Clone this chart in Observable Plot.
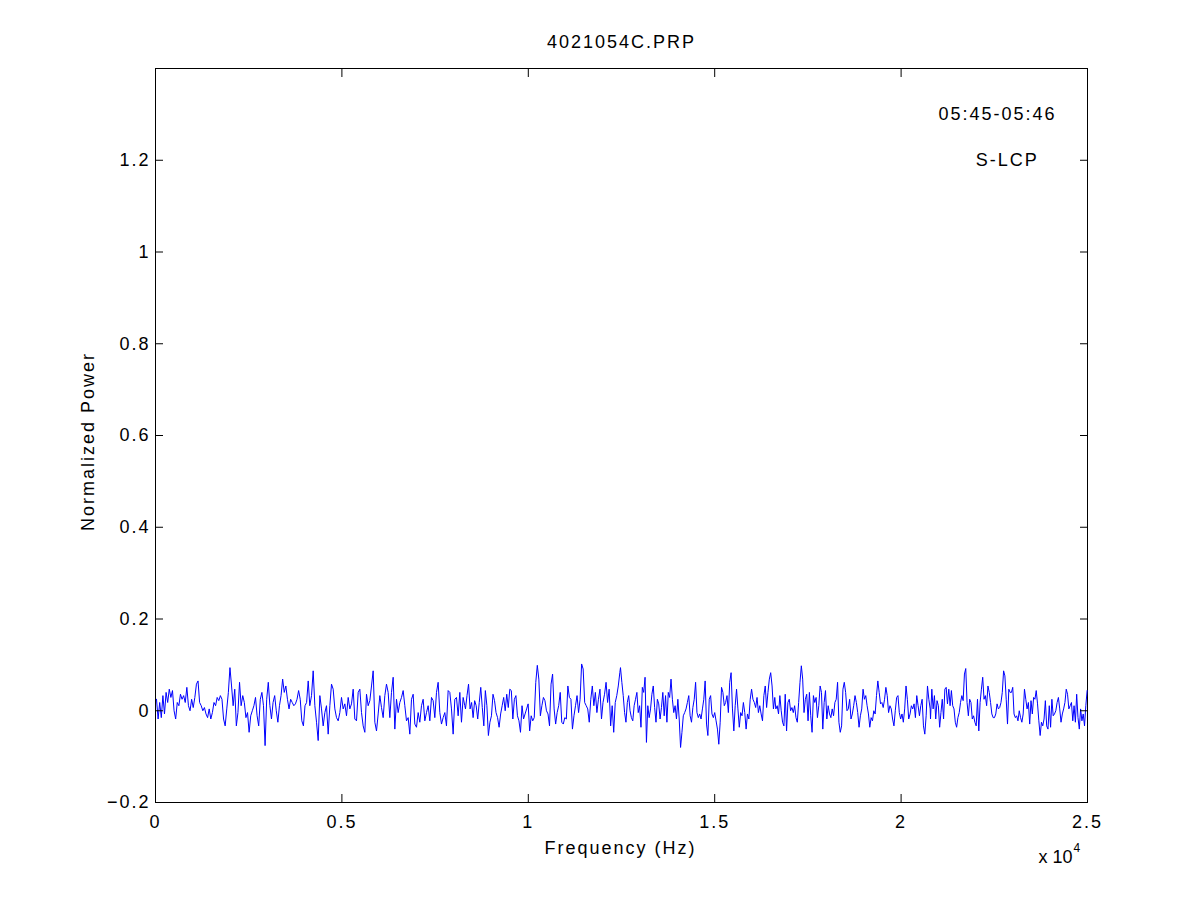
<!DOCTYPE html>
<html>
<head>
<meta charset="utf-8">
<script src="https://cdn.jsdelivr.net/npm/d3@7"></script>
<script src="https://cdn.jsdelivr.net/npm/@observablehq/plot@0.6"></script>
<style>
  html, body { margin: 0; padding: 0; background: #fff; }
  #chart { width: 1201px; height: 901px; }
</style>
</head>
<body>
<div id="chart"></div>
<script>
// ---- text ----
const title = "4021054C.PRP";
const xLabel = "Frequency (Hz)";
const yLabel = "Normalized Power";
const exponentBase = "x 10";
const exponentPower = "4";
const annotations = ["05:45-05:46", "S-LCP"];
const annotationHz = [21000, 22000];
const annotationPower = [1.3, 1.2];

// ---- ticks ----
const xTicks = [0, 5000, 10000, 15000, 20000, 25000];
const xTickLabels = ["0", "0.5", "1", "1.5", "2", "2.5"];
const yTicks = [-0.2, 0, 0.2, 0.4, 0.6, 0.8, 1, 1.2];
const yTickLabels = ["\u22120.2", "0", "0.2", "0.4", "0.6", "0.8", "1", "1.2"];
const xDomain = [0, 25000];
const yDomain = [-0.2, 1.4];

// ---- spectrum, read in six consecutive frequency segments ----
const segmentStartHz = [27, 4185, 8315, 12473, 16640, 20789];
const segmentEndHz   = [4139, 8297, 12455, 16612, 20780, 24990];

const powerSeg1 = [0.025,-0.018,0.018,-0.015,0.033,-0.007,0.04,0.018,0.047,0.029,
0.044,0,-0.018,0.018,0.011,0.036,0.025,0.033,0.018,0.051,
0.011,0,0.025,0.007,0.029,0.058,0.065,0.018,0.011,0,
0.007,-0.007,-0.015,0.004,-0.018,-0.004,0.018,0.011,0.029,0.022,
0.033,0.025,-0.018,-0.033,0.004,0.04,0.094,0.054,0.011,0.047,
-0.033,-0.004,0.062,0.011,0.033,0.018,-0.015,-0.004,-0.047,-0.011,
0,0.011,0.029,-0.011,-0.033,0.025,0.04,0.011,-0.076,0.025,
0.062,0.011,-0.018,0.018,0.033,0,-0.025,0.011,0.033,0.069,
0.04,0.054,0.025,0.004,0.025,0.018,0.011,0.015,0.025,0.044,
0.025,-0.022,-0.033,0.011,0.018,0.065,0.011];

const powerSeg2 = [0.033,0.087,0.011,-0.025,-0.065,0.033,0.004,-0.033,-0.004,0.011,
-0.051,0.011,0.058,0.047,0.004,-0.015,-0.022,-0.004,0.029,0.004,
0.015,-0.011,0.029,0.004,0.015,0.047,-0.018,-0.022,0.04,0.047,
-0.004,-0.033,-0.047,0.036,0.011,0.022,0.054,0.087,-0.025,-0.044,
-0.007,0.033,0.007,-0.015,0.033,0.058,0.04,-0.015,0.04,0.073,
-0.04,0.025,-0.004,0.018,0.029,0.044,0.011,-0.022,-0.015,-0.051,
0.025,0.036,-0.029,-0.036,-0.004,-0.025,0.011,0.025,-0.022,-0.004,
0.011,-0.022,0.029,0.022,-0.015,0.04,0.062,-0.004,-0.029,-0.015,
-0.004,-0.033,0.044,0.04,0.004,-0.051,0.025,0.029,-0.011,0.04,
-0.025,0.029,0.011];

const powerSeg3 = [0.004,0.033,0.058,0.004,0.018,-0.015,0.022,0.011,-0.018,0.018,
0.051,0.007,-0.033,0.044,0.011,-0.054,-0.025,-0.011,0.036,0.022,
-0.004,-0.015,-0.036,-0.007,0.011,0.029,0,0.036,0.007,0.047,
0.044,-0.018,0.025,0.033,-0.011,-0.022,-0.047,0.011,-0.018,-0.007,
0.004,0.015,-0.044,-0.011,-0.022,-0.015,0.062,0.099,0.069,-0.011,
0.011,0.029,0.022,0,-0.007,-0.033,0.058,0.08,0.004,-0.029,
-0.004,0.011,0.04,-0.025,-0.029,-0.015,-0.018,0.054,0.029,0.025,
-0.04,-0.011,0.011,0.033,-0.004,0.025,0.102,0.091,0.018,0.011,
0.004,-0.025,0.025,0.054,0.011,0.04,-0.004,0.025,0.047,-0.018,
0.018,0.036,0.062,0.018,0.047,-0.033,0.011,-0.047,0.018,0.033,
0.054,0.083];

const powerSeg4 = [0.094,0.062,0.033,-0.004,-0.025,0.018,0.033,0,-0.015,-0.022,
0.011,0.025,0.04,-0.004,0.011,-0.036,0.051,0.04,0.073,-0.069,
0.011,-0.015,0.004,0.036,0.054,0.007,-0.025,0.025,0.015,-0.018,
0.007,0.04,-0.011,0.033,-0.025,0.04,0.029,0.069,0.025,-0.004,
0.011,-0.018,0.025,-0.018,-0.08,-0.047,-0.011,-0.004,0.004,0.018,
0.033,-0.011,-0.025,0.007,0.025,0.062,-0.004,-0.015,-0.007,-0.018,
0.004,0.025,0.065,-0.029,-0.054,0.025,0.033,-0.007,-0.015,-0.004,
-0.022,-0.04,-0.073,-0.025,0.051,0.04,0.011,0.018,0.033,-0.004,
0.062,0.083,0.004,-0.044,0.011,0.047,0.004,-0.036,-0.004,-0.011,
0.018,-0.004,-0.04,-0.007,-0.018,0.025,0.047,0.025,0.018,0.007,
0.029,-0.004,0.011,-0.007,-0.022,0.033,0.054,0.007,0.04,0.069,
0.083,0.054,0.004,0.029];

const powerSeg5 = [0.004,0.011,-0.007,0.033,0,-0.025,-0.033,0.036,-0.044,0.018,
0.025,0,0.007,-0.004,0.011,-0.015,-0.025,0.018,0.062,0.098,
0.069,-0.004,0.025,0.036,-0.022,0.04,-0.011,-0.047,0.033,0.018,
0.029,-0.015,0.011,0.054,0.04,-0.04,0.018,0.044,-0.018,0.011,
-0.007,-0.015,0.004,-0.011,0.018,0.025,0.062,-0.025,-0.047,-0.033,
0.047,0.062,0.04,0,0.004,0.025,-0.018,-0.007,0.011,0.033,
0.018,-0.004,-0.036,-0.011,0.004,0.047,0.025,0.033,0.011,-0.007,
-0.036,-0.015,-0.022,0,-0.007,0.033,0.065,0.04,0.015,0.018,
0.007,0.025,0.051,0.033,-0.004,0.011,0.004,-0.018,-0.033,0,
0.029,0.033,-0.004,-0.018,-0.007,-0.025,0.004,0.054,0.025,-0.018,
-0.007,0.011,0.004,0.015,-0.015,0.033,0.011,-0.011,0.011,0.025,
-0.033,-0.051,-0.011,0.054,0.025,0.004];

const powerSeg6 = [-0.018,0.047,0.004,0.033,-0.018,0.022,0.011,-0.036,-0.004,0.025,
-0.018,0.047,0.051,0.015,0.047,0.011,0.044,0.011,0.004,-0.025,
-0.036,-0.015,-0.004,0.018,0.033,0.022,0.08,0.092,0.018,-0.011,
0.025,0.018,-0.018,-0.011,-0.025,-0.033,0.025,-0.044,0.018,0.047,
0.073,0.025,0.033,0.011,0.054,0.04,0.018,-0.007,-0.015,-0.015,
-0.007,0.015,0.004,0.007,0.018,0.04,0.087,0.076,0.025,-0.029,
0.047,0.04,0.04,0.051,-0.007,-0.015,-0.011,-0.022,0,-0.015,
-0.025,-0.007,0.047,0.025,0.004,0.018,-0.029,0.022,-0.007,0.029,
0.025,0.044,0.015,-0.022,-0.054,-0.025,-0.033,-0.018,0.022,-0.033,
-0.04,0.011,-0.036,0.025,-0.011,-0.007,0,0.018,0.029,0.004,
-0.025,-0.007,0.004,0.018,0.047,0.036,0.004,0.011,0.018,-0.022,
0.011,-0.025,0.036,-0.015,-0.04,0.004,-0.022,-0.007,-0.033,0.011,
0.044];

const powerSegments = [powerSeg1, powerSeg2, powerSeg3, powerSeg4, powerSeg5, powerSeg6];

// Build the table: samples are evenly spaced inside each segment
const spectrum = [];
powerSegments.forEach((seg, s) => {
  const n = seg.length;
  seg.forEach((p, j) => {
    spectrum.push({
      hz: segmentStartHz[s] + (segmentEndHz[s] - segmentStartHz[s]) * j / (n - 1),
      power: p
    });
  });
});

const fontFamily = "'Liberation Sans', Arial, Helvetica, sans-serif";
const black = "#000000";
const tickLen = 8;

const chart = Plot.plot({
  width: 1201,
  height: 901,
  marginLeft: 155,
  marginRight: 114,
  marginTop: 68,
  marginBottom: 99,
  style: {
    fontFamily,
    fontSize: "18px",
    letterSpacing: "2px",
    color: black,
    background: "#ffffff",
    overflow: "visible"
  },
  x: { domain: xDomain },
  y: { domain: yDomain },
  marks: [
    Plot.frame({ stroke: black, strokeWidth: 1 }),
    Plot.line(spectrum, { x: "hz", y: "power", stroke: "#0000ff", strokeWidth: 1 }),

    // inward tick marks on all four sides
    Plot.axisX({ anchor: "bottom", ticks: xTicks, tickSize: tickLen, dy: -tickLen, tickFormat: () => "", label: null, stroke: black }),
    Plot.axisX({ anchor: "top", ticks: xTicks, tickSize: tickLen, dy: tickLen, tickFormat: () => "", label: null, stroke: black }),
    Plot.axisY({ anchor: "left", ticks: yTicks, tickSize: tickLen, dx: tickLen, tickFormat: () => "", label: null, stroke: black }),
    Plot.axisY({ anchor: "right", ticks: yTicks, tickSize: tickLen, dx: -tickLen, tickFormat: () => "", label: null, stroke: black }),

    // tick labels
    Plot.axisX({ anchor: "bottom", ticks: xTicks, tickSize: 0, tickPadding: 13,
      tickFormat: d => xTickLabels[xTicks.indexOf(d)], label: null, fill: black }),
    Plot.axisY({ anchor: "left", ticks: yTicks, tickSize: 0, tickPadding: 5,
      tickFormat: d => yTickLabels[yTicks.indexOf(d)], label: null, fill: black }),

    // title and axis labels
    Plot.text([title], { text: d => d, frameAnchor: "top", textAnchor: "middle", lineAnchor: "middle", dy: -26, fill: black }),
    Plot.text([xLabel], { text: d => d, frameAnchor: "bottom", textAnchor: "middle", lineAnchor: "middle", dy: 46, dx: -1, fill: black }),
    Plot.text([yLabel], { text: d => d, frameAnchor: "left", textAnchor: "middle", lineAnchor: "middle", rotate: -90, dx: -67, dy: 6, fill: black }),

    // exponent of the x axis
    Plot.text([exponentBase], { text: d => d, frameAnchor: "bottom-right", textAnchor: "start", lineAnchor: "middle",
      dx: -49, dy: 55, fill: black }),
    Plot.text([exponentPower], { text: d => d, frameAnchor: "bottom-right", textAnchor: "start", lineAnchor: "middle",
      dx: -14, dy: 46, fontSize: 12, fill: black }),

    // annotations in data coordinates
    Plot.text(annotations, { x: (d, i) => annotationHz[i], y: (d, i) => annotationPower[i],
      text: d => d, textAnchor: "start", lineAnchor: "middle", fill: black })
  ]
});

// the exponent base is set tight, as in the reference
d3.select(chart).selectAll("text")
  .filter(function () { return this.textContent === exponentBase; })
  .style("letter-spacing", "0px");

document.getElementById("chart").appendChild(chart);
</script>
</body>
</html>
